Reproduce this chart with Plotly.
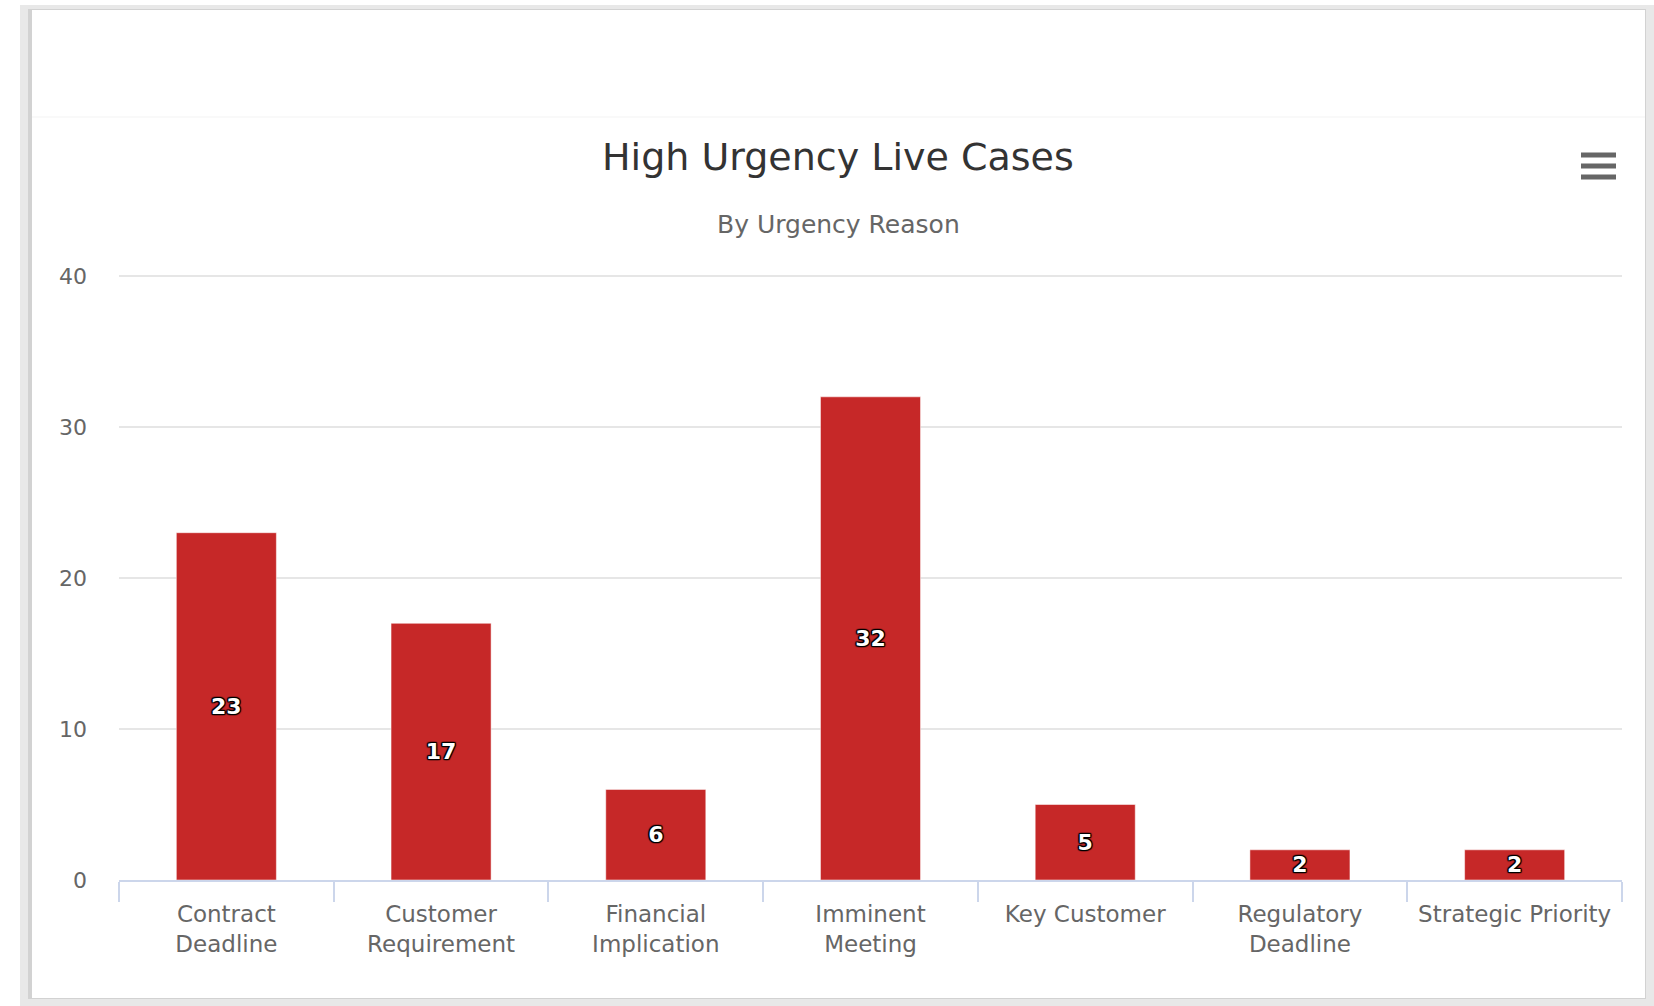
import plotly.graph_objects as go

# ---- data ----
categories = ["Contract<br>Deadline", "Customer<br>Requirement", "Financial<br>Implication",
              "Imminent<br>Meeting", "Key Customer", "Regulatory<br>Deadline", "Strategic Priority"]
case_counts = [23, 17, 6, 32, 5, 2, 2]
y_ticks = [0, 10, 20, 30, 40]

title_text = "High Urgency Live Cases"
subtitle_text = "By Urgency Reason"

# ---- layout geometry (pixels) ----
W, H = 1654, 1006
PL, PR, PT, PB = 119, 1622, 273, 880  # plot area (y range 0..40.2)
Y_MAX = 40.2


def px(x):
    return (x - PL) / (PR - PL)


def py(y):
    return (PB - y) / (PB - PT)


FONT = "DejaVu Sans"
BAR = "#c62828"
OUTLINE = ("1px 1px 1px #000, -1px -1px 1px #000, 1px -1px 1px #000, -1px 1px 1px #000, "
           "0px 1px 1px #000, 0px -1px 1px #000, 1px 0px 1px #000, -1px 0px 1px #000")

fig = go.Figure()
fig.add_trace(go.Bar(
    x=categories,
    y=case_counts,
    marker=dict(color=BAR, line=dict(color="rgba(255,255,255,0.5)", width=1)),
    text=[str(v) for v in case_counts],
    textposition="inside",
    insidetextanchor="middle",
    textangle=0,
    constraintext="none",
    textfont=dict(family=FONT, size=22, color="white", weight="bold", shadow=OUTLINE),
    hoverinfo="x+y",
))

shapes = [
    # outer frame / shadow
    dict(type="rect", xref="paper", yref="paper", x0=px(20), x1=px(1654), y0=py(5), y1=py(1006),
         fillcolor="#e8e8e8", line=dict(width=0), layer="below"),
    dict(type="rect", xref="paper", yref="paper", x0=px(28), x1=px(1646), y0=py(9), y1=py(999),
         fillcolor="#d2d2d2", line=dict(width=0), layer="below"),
    # card
    dict(type="rect", xref="paper", yref="paper", x0=px(32), x1=px(1645), y0=py(10), y1=py(998),
         fillcolor="white", line=dict(width=0), layer="below"),
    # faint header separator
    dict(type="line", xref="paper", yref="paper", x0=px(32), x1=px(1645), y0=py(117), y1=py(117),
         line=dict(color="#f3f3f3", width=1), layer="below"),
]
# hamburger menu icon
for yy in (155, 166, 177):
    shapes.append(dict(type="line", xref="paper", yref="paper", x0=px(1581), x1=px(1616),
                       y0=py(yy), y1=py(yy), line=dict(color="#666666", width=5)))

annotations = [
    dict(text=title_text, xref="paper", yref="paper", x=px(838), y=py(157), showarrow=False,
         xanchor="center", yanchor="middle", font=dict(family=FONT, size=38, color="#333333")),
    dict(text=subtitle_text, xref="paper", yref="paper", x=px(838), y=py(224), showarrow=False,
         xanchor="center", yanchor="middle", font=dict(family=FONT, size=25, color="#666666")),
]

fig.update_layout(
    width=W, height=H,
    margin=dict(l=PL, r=W - PR, t=PT, b=H - PB, pad=0),
    paper_bgcolor="white",
    plot_bgcolor="white",
    bargap=0.534,
    showlegend=False,
    shapes=shapes,
    annotations=annotations,
    font=dict(family=FONT, color="#666666"),
)
fig.update_xaxes(
    showline=True, linecolor="#ccd6eb", linewidth=2,
    ticks="outside", tickson="boundaries", ticklen=20, tickcolor="#ccd6eb", tickwidth=2,
    ticklabelstandoff=12,
    tickfont=dict(family=FONT, size=23, color="#666666"),
    showgrid=False, fixedrange=True,
)
fig.update_yaxes(
    range=[0, Y_MAX], tickvals=y_ticks, showline=False, zeroline=False,
    gridcolor="#e6e6e6", gridwidth=2,
    ticklabelstandoff=31,
    tickfont=dict(family=FONT, size=22, color="#666666"),
    fixedrange=True,
)

fig.write_html("out.html", config={"displayModeBar": False},
               post_script="document.body.style.margin='0px';document.body.style.overflow='hidden';")
